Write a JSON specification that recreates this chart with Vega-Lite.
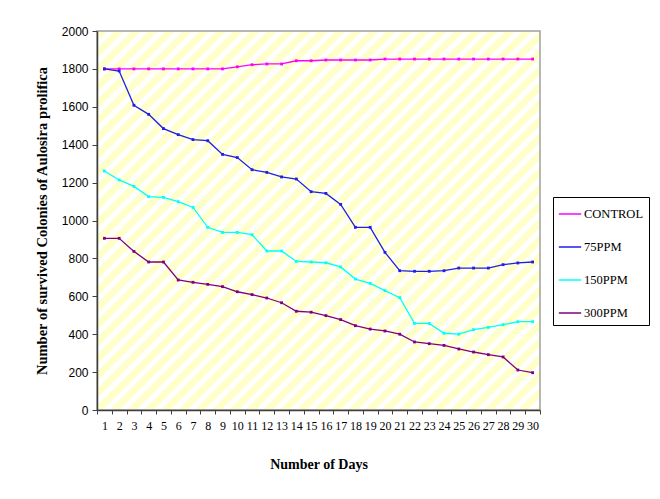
{
  "$schema": "https://vega.github.io/schema/vega-lite/v6.json",
  "width": 443,
  "height": 379,
  "autosize": {"type": "none"},
  "padding": {"left": 97, "top": 31, "right": 120, "bottom": 89},
  "background": "white",
  "view": {
    "stroke": "#a0a0a0",
    "strokeWidth": 1.5,
    "fill": {
      "gradient": "linear", "x1": 0, "y1": 0, "x2": 1.0714, "y2": 0.9166,
      "stops": [
        {"offset": 0, "color": "#FFFFCC"}, {"offset": 0.01242, "color": "#FFFFCC"}, {"offset": 0.01242, "color": "#FFFFFF"}, {"offset": 0.0207, "color": "#FFFFFF"},
        {"offset": 0.0207, "color": "#FFFFCC"}, {"offset": 0.03312, "color": "#FFFFCC"}, {"offset": 0.03312, "color": "#FFFFFF"}, {"offset": 0.0414, "color": "#FFFFFF"},
        {"offset": 0.0414, "color": "#FFFFCC"}, {"offset": 0.05382, "color": "#FFFFCC"}, {"offset": 0.05382, "color": "#FFFFFF"}, {"offset": 0.0621, "color": "#FFFFFF"},
        {"offset": 0.0621, "color": "#FFFFCC"}, {"offset": 0.07452, "color": "#FFFFCC"}, {"offset": 0.07452, "color": "#FFFFFF"}, {"offset": 0.0828, "color": "#FFFFFF"},
        {"offset": 0.0828, "color": "#FFFFCC"}, {"offset": 0.09522, "color": "#FFFFCC"}, {"offset": 0.09522, "color": "#FFFFFF"}, {"offset": 0.1035, "color": "#FFFFFF"},
        {"offset": 0.1035, "color": "#FFFFCC"}, {"offset": 0.11592, "color": "#FFFFCC"}, {"offset": 0.11592, "color": "#FFFFFF"}, {"offset": 0.1242, "color": "#FFFFFF"},
        {"offset": 0.1242, "color": "#FFFFCC"}, {"offset": 0.13662, "color": "#FFFFCC"}, {"offset": 0.13662, "color": "#FFFFFF"}, {"offset": 0.1449, "color": "#FFFFFF"},
        {"offset": 0.1449, "color": "#FFFFCC"}, {"offset": 0.15732, "color": "#FFFFCC"}, {"offset": 0.15732, "color": "#FFFFFF"}, {"offset": 0.1656, "color": "#FFFFFF"},
        {"offset": 0.1656, "color": "#FFFFCC"}, {"offset": 0.17802, "color": "#FFFFCC"}, {"offset": 0.17802, "color": "#FFFFFF"}, {"offset": 0.1863, "color": "#FFFFFF"},
        {"offset": 0.1863, "color": "#FFFFCC"}, {"offset": 0.19872, "color": "#FFFFCC"}, {"offset": 0.19872, "color": "#FFFFFF"}, {"offset": 0.207, "color": "#FFFFFF"},
        {"offset": 0.207, "color": "#FFFFCC"}, {"offset": 0.21942, "color": "#FFFFCC"}, {"offset": 0.21942, "color": "#FFFFFF"}, {"offset": 0.2277, "color": "#FFFFFF"},
        {"offset": 0.2277, "color": "#FFFFCC"}, {"offset": 0.24012, "color": "#FFFFCC"}, {"offset": 0.24012, "color": "#FFFFFF"}, {"offset": 0.2484, "color": "#FFFFFF"},
        {"offset": 0.2484, "color": "#FFFFCC"}, {"offset": 0.26082, "color": "#FFFFCC"}, {"offset": 0.26082, "color": "#FFFFFF"}, {"offset": 0.2691, "color": "#FFFFFF"},
        {"offset": 0.2691, "color": "#FFFFCC"}, {"offset": 0.28152, "color": "#FFFFCC"}, {"offset": 0.28152, "color": "#FFFFFF"}, {"offset": 0.2898, "color": "#FFFFFF"},
        {"offset": 0.2898, "color": "#FFFFCC"}, {"offset": 0.30222, "color": "#FFFFCC"}, {"offset": 0.30222, "color": "#FFFFFF"}, {"offset": 0.3105, "color": "#FFFFFF"},
        {"offset": 0.3105, "color": "#FFFFCC"}, {"offset": 0.32292, "color": "#FFFFCC"}, {"offset": 0.32292, "color": "#FFFFFF"}, {"offset": 0.3312, "color": "#FFFFFF"},
        {"offset": 0.3312, "color": "#FFFFCC"}, {"offset": 0.34362, "color": "#FFFFCC"}, {"offset": 0.34362, "color": "#FFFFFF"}, {"offset": 0.3519, "color": "#FFFFFF"},
        {"offset": 0.3519, "color": "#FFFFCC"}, {"offset": 0.36432, "color": "#FFFFCC"}, {"offset": 0.36432, "color": "#FFFFFF"}, {"offset": 0.3726, "color": "#FFFFFF"},
        {"offset": 0.3726, "color": "#FFFFCC"}, {"offset": 0.38502, "color": "#FFFFCC"}, {"offset": 0.38502, "color": "#FFFFFF"}, {"offset": 0.3933, "color": "#FFFFFF"},
        {"offset": 0.3933, "color": "#FFFFCC"}, {"offset": 0.40572, "color": "#FFFFCC"}, {"offset": 0.40572, "color": "#FFFFFF"}, {"offset": 0.414, "color": "#FFFFFF"},
        {"offset": 0.414, "color": "#FFFFCC"}, {"offset": 0.42642, "color": "#FFFFCC"}, {"offset": 0.42642, "color": "#FFFFFF"}, {"offset": 0.4347, "color": "#FFFFFF"},
        {"offset": 0.4347, "color": "#FFFFCC"}, {"offset": 0.44712, "color": "#FFFFCC"}, {"offset": 0.44712, "color": "#FFFFFF"}, {"offset": 0.4554, "color": "#FFFFFF"},
        {"offset": 0.4554, "color": "#FFFFCC"}, {"offset": 0.46782, "color": "#FFFFCC"}, {"offset": 0.46782, "color": "#FFFFFF"}, {"offset": 0.4761, "color": "#FFFFFF"},
        {"offset": 0.4761, "color": "#FFFFCC"}, {"offset": 0.48852, "color": "#FFFFCC"}, {"offset": 0.48852, "color": "#FFFFFF"}, {"offset": 0.4968, "color": "#FFFFFF"},
        {"offset": 0.4968, "color": "#FFFFCC"}, {"offset": 0.50922, "color": "#FFFFCC"}, {"offset": 0.50922, "color": "#FFFFFF"}, {"offset": 0.5175, "color": "#FFFFFF"},
        {"offset": 0.5175, "color": "#FFFFCC"}, {"offset": 0.52992, "color": "#FFFFCC"}, {"offset": 0.52992, "color": "#FFFFFF"}, {"offset": 0.5382, "color": "#FFFFFF"},
        {"offset": 0.5382, "color": "#FFFFCC"}, {"offset": 0.55062, "color": "#FFFFCC"}, {"offset": 0.55062, "color": "#FFFFFF"}, {"offset": 0.5589, "color": "#FFFFFF"},
        {"offset": 0.5589, "color": "#FFFFCC"}, {"offset": 0.57132, "color": "#FFFFCC"}, {"offset": 0.57132, "color": "#FFFFFF"}, {"offset": 0.5796, "color": "#FFFFFF"},
        {"offset": 0.5796, "color": "#FFFFCC"}, {"offset": 0.59202, "color": "#FFFFCC"}, {"offset": 0.59202, "color": "#FFFFFF"}, {"offset": 0.6003, "color": "#FFFFFF"},
        {"offset": 0.6003, "color": "#FFFFCC"}, {"offset": 0.61272, "color": "#FFFFCC"}, {"offset": 0.61272, "color": "#FFFFFF"}, {"offset": 0.621, "color": "#FFFFFF"},
        {"offset": 0.621, "color": "#FFFFCC"}, {"offset": 0.63342, "color": "#FFFFCC"}, {"offset": 0.63342, "color": "#FFFFFF"}, {"offset": 0.6417, "color": "#FFFFFF"},
        {"offset": 0.6417, "color": "#FFFFCC"}, {"offset": 0.65412, "color": "#FFFFCC"}, {"offset": 0.65412, "color": "#FFFFFF"}, {"offset": 0.6624, "color": "#FFFFFF"},
        {"offset": 0.6624, "color": "#FFFFCC"}, {"offset": 0.67482, "color": "#FFFFCC"}, {"offset": 0.67482, "color": "#FFFFFF"}, {"offset": 0.6831, "color": "#FFFFFF"},
        {"offset": 0.6831, "color": "#FFFFCC"}, {"offset": 0.69552, "color": "#FFFFCC"}, {"offset": 0.69552, "color": "#FFFFFF"}, {"offset": 0.7038, "color": "#FFFFFF"},
        {"offset": 0.7038, "color": "#FFFFCC"}, {"offset": 0.71622, "color": "#FFFFCC"}, {"offset": 0.71622, "color": "#FFFFFF"}, {"offset": 0.7245, "color": "#FFFFFF"},
        {"offset": 0.7245, "color": "#FFFFCC"}, {"offset": 0.73692, "color": "#FFFFCC"}, {"offset": 0.73692, "color": "#FFFFFF"}, {"offset": 0.7452, "color": "#FFFFFF"},
        {"offset": 0.7452, "color": "#FFFFCC"}, {"offset": 0.75762, "color": "#FFFFCC"}, {"offset": 0.75762, "color": "#FFFFFF"}, {"offset": 0.7659, "color": "#FFFFFF"},
        {"offset": 0.7659, "color": "#FFFFCC"}, {"offset": 0.77832, "color": "#FFFFCC"}, {"offset": 0.77832, "color": "#FFFFFF"}, {"offset": 0.7866, "color": "#FFFFFF"},
        {"offset": 0.7866, "color": "#FFFFCC"}, {"offset": 0.79902, "color": "#FFFFCC"}, {"offset": 0.79902, "color": "#FFFFFF"}, {"offset": 0.8073, "color": "#FFFFFF"},
        {"offset": 0.8073, "color": "#FFFFCC"}, {"offset": 0.81972, "color": "#FFFFCC"}, {"offset": 0.81972, "color": "#FFFFFF"}, {"offset": 0.828, "color": "#FFFFFF"},
        {"offset": 0.828, "color": "#FFFFCC"}, {"offset": 0.84042, "color": "#FFFFCC"}, {"offset": 0.84042, "color": "#FFFFFF"}, {"offset": 0.8487, "color": "#FFFFFF"},
        {"offset": 0.8487, "color": "#FFFFCC"}, {"offset": 0.86112, "color": "#FFFFCC"}, {"offset": 0.86112, "color": "#FFFFFF"}, {"offset": 0.8694, "color": "#FFFFFF"},
        {"offset": 0.8694, "color": "#FFFFCC"}, {"offset": 0.88182, "color": "#FFFFCC"}, {"offset": 0.88182, "color": "#FFFFFF"}, {"offset": 0.8901, "color": "#FFFFFF"},
        {"offset": 0.8901, "color": "#FFFFCC"}, {"offset": 0.90252, "color": "#FFFFCC"}, {"offset": 0.90252, "color": "#FFFFFF"}, {"offset": 0.9108, "color": "#FFFFFF"},
        {"offset": 0.9108, "color": "#FFFFCC"}, {"offset": 0.92322, "color": "#FFFFCC"}, {"offset": 0.92322, "color": "#FFFFFF"}, {"offset": 0.9315, "color": "#FFFFFF"},
        {"offset": 0.9315, "color": "#FFFFCC"}, {"offset": 0.94392, "color": "#FFFFCC"}, {"offset": 0.94392, "color": "#FFFFFF"}, {"offset": 0.9522, "color": "#FFFFFF"},
        {"offset": 0.9522, "color": "#FFFFCC"}, {"offset": 0.96462, "color": "#FFFFCC"}, {"offset": 0.96462, "color": "#FFFFFF"}, {"offset": 0.9729, "color": "#FFFFFF"},
        {"offset": 0.9729, "color": "#FFFFCC"}, {"offset": 0.98532, "color": "#FFFFCC"}, {"offset": 0.98532, "color": "#FFFFFF"}, {"offset": 0.9936, "color": "#FFFFFF"},
        {"offset": 0.9936, "color": "#FFFFCC"}, {"offset": 1, "color": "#FFFFCC"}
      ]
    }
  },
  "data": {
    "values": [
      {"day": 1, "CONTROL": 1800, "75PPM": 1800, "150PPM": 1261, "300PPM": 906},
      {"day": 2, "CONTROL": 1800, "75PPM": 1789, "150PPM": 1214, "300PPM": 906},
      {"day": 3, "CONTROL": 1800, "75PPM": 1608, "150PPM": 1180, "300PPM": 837},
      {"day": 4, "CONTROL": 1800, "75PPM": 1560, "150PPM": 1126, "300PPM": 781},
      {"day": 5, "CONTROL": 1800, "75PPM": 1485, "150PPM": 1122, "300PPM": 781},
      {"day": 6, "CONTROL": 1800, "75PPM": 1453, "150PPM": 1099, "300PPM": 686},
      {"day": 7, "CONTROL": 1800, "75PPM": 1427, "150PPM": 1069, "300PPM": 674},
      {"day": 8, "CONTROL": 1800, "75PPM": 1421, "150PPM": 964, "300PPM": 663},
      {"day": 9, "CONTROL": 1800, "75PPM": 1349, "150PPM": 937, "300PPM": 651},
      {"day": 10, "CONTROL": 1811, "75PPM": 1332, "150PPM": 937, "300PPM": 624},
      {"day": 11, "CONTROL": 1822, "75PPM": 1268, "150PPM": 925, "300PPM": 609},
      {"day": 12, "CONTROL": 1826, "75PPM": 1254, "150PPM": 839, "300PPM": 591},
      {"day": 13, "CONTROL": 1826, "75PPM": 1230, "150PPM": 839, "300PPM": 566},
      {"day": 14, "CONTROL": 1843, "75PPM": 1219, "150PPM": 784, "300PPM": 521},
      {"day": 15, "CONTROL": 1843, "75PPM": 1152, "150PPM": 781, "300PPM": 516},
      {"day": 16, "CONTROL": 1847, "75PPM": 1143, "150PPM": 777, "300PPM": 498},
      {"day": 17, "CONTROL": 1847, "75PPM": 1085, "150PPM": 755, "300PPM": 477},
      {"day": 18, "CONTROL": 1847, "75PPM": 964, "150PPM": 691, "300PPM": 445},
      {"day": 19, "CONTROL": 1847, "75PPM": 964, "150PPM": 668, "300PPM": 427},
      {"day": 20, "CONTROL": 1852, "75PPM": 832, "150PPM": 630, "300PPM": 417},
      {"day": 21, "CONTROL": 1852, "75PPM": 735, "150PPM": 593, "300PPM": 400},
      {"day": 22, "CONTROL": 1852, "75PPM": 732, "150PPM": 457, "300PPM": 359},
      {"day": 23, "CONTROL": 1852, "75PPM": 732, "150PPM": 457, "300PPM": 350},
      {"day": 24, "CONTROL": 1852, "75PPM": 735, "150PPM": 405, "300PPM": 341},
      {"day": 25, "CONTROL": 1852, "75PPM": 749, "150PPM": 400, "300PPM": 322},
      {"day": 26, "CONTROL": 1852, "75PPM": 749, "150PPM": 424, "300PPM": 306},
      {"day": 27, "CONTROL": 1852, "75PPM": 749, "150PPM": 436, "300PPM": 292},
      {"day": 28, "CONTROL": 1852, "75PPM": 767, "150PPM": 450, "300PPM": 280},
      {"day": 29, "CONTROL": 1852, "75PPM": 776, "150PPM": 466, "300PPM": 211},
      {"day": 30, "CONTROL": 1852, "75PPM": 781, "150PPM": 466, "300PPM": 197}
    ]
  },
  "transform": [
    {"fold": ["CONTROL", "75PPM", "150PPM", "300PPM"], "as": ["series", "value"]}
  ],
  "mark": {
    "type": "line",
    "strokeWidth": 1.3,
    "point": {"shape": "square", "size": 8, "filled": true}
  },
  "encoding": {
    "x": {
      "field": "day",
      "type": "ordinal",
      "bandPosition": 0.5,
      "scale": {"type": "band", "paddingInner": 0, "paddingOuter": 0},
      "axis": {
        "title": "Number of Days",
        "tickBand": "extent",
        "labelAngle": 0,
        "labelFont": "Liberation Serif",
        "labelFontSize": 12,
        "labelColor": "#000000",
        "labelPadding": 6,
        "tickSize": 4,
        "tickColor": "#404040",
        "domainColor": "#404040",
        "domainWidth": 1.5,
        "titleFont": "Liberation Serif",
        "titleFontSize": 14,
        "titleFontWeight": "bold",
        "titleColor": "#000000",
        "titlePadding": 26,
        "grid": false
      }
    },
    "y": {
      "field": "value",
      "type": "quantitative",
      "scale": {"domain": [0, 2000], "nice": false, "zero": true},
      "axis": {
        "title": "Number of survived Colonies of Aulosira prolifica",
        "values": [0, 200, 400, 600, 800, 1000, 1200, 1400, 1600, 1800, 2000],
        "format": "d",
        "labelFont": "Liberation Sans",
        "labelFontSize": 12,
        "labelColor": "#000000",
        "labelPadding": 4,
        "tickSize": 5,
        "tickColor": "#404040",
        "domainColor": "#404040",
        "domainWidth": 1.5,
        "titleFont": "Liberation Serif",
        "titleFontSize": 14.5,
        "titleFontWeight": "bold",
        "titleColor": "#000000",
        "titlePadding": 12,
        "grid": false
      }
    },
    "color": {
      "field": "series",
      "type": "nominal",
      "scale": {
        "domain": ["CONTROL", "75PPM", "150PPM", "300PPM"],
        "range": ["#FF00FF", "#1F1FE8", "#00FFFF", "#800080"]
      },
      "legend": {
        "title": null,
        "orient": "none",
        "legendX": 456,
        "legendY": 166,
        "symbolType": "stroke",
        "symbolSize": 500,
        "symbolStrokeWidth": 1.5,
        "labelFont": "Liberation Serif",
        "labelFontSize": 12.5,
        "labelColor": "#000000",
        "labelOffset": 2,
        "rowPadding": 14,
        "padding": 5,
        "strokeColor": "#000000",
        "fillColor": "#FFFFFF"
      }
    }
  }
}
